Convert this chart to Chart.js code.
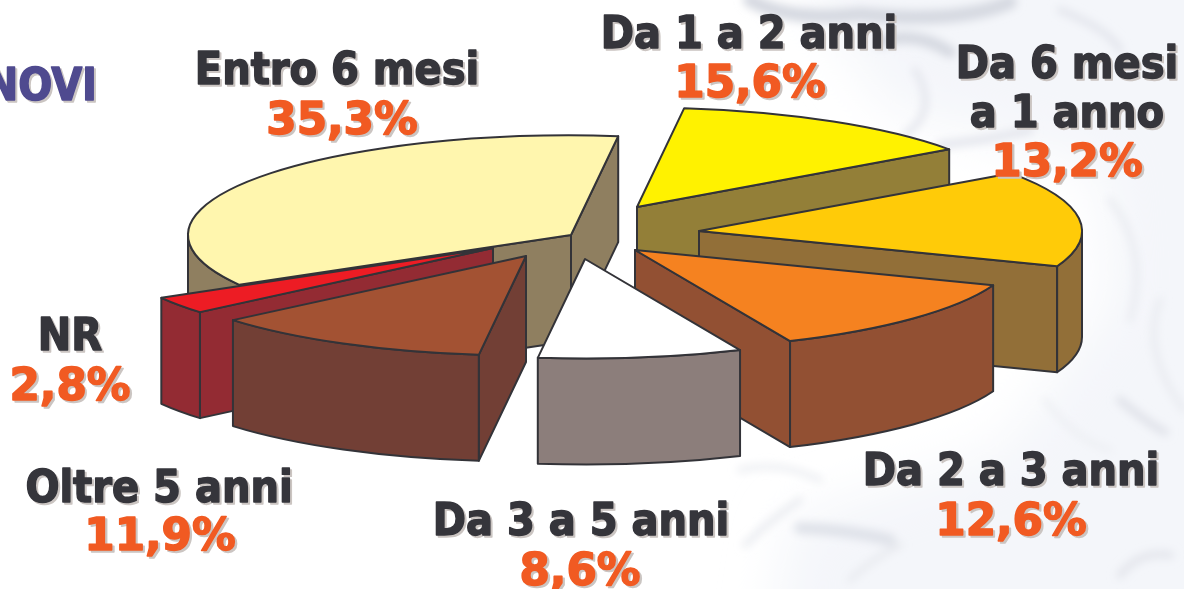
<!DOCTYPE html>
<html><head><meta charset="utf-8">
<script src="https://cdn.jsdelivr.net/npm/chart.js@4"></script>
<style>
html,body{margin:0;padding:0;background:#fff;width:1184px;height:589px;overflow:hidden}
#bg{position:absolute;left:0;top:0}
#wrap{position:absolute;left:0;top:0;width:1184px;height:589px}
</style></head><body>
<svg id="bg" width="1184" height="589" viewBox="0 0 1184 589">
<defs>
<filter id="b1" x="-30%" y="-30%" width="160%" height="160%"><feGaussianBlur stdDeviation="26"/></filter>
<filter id="b2" x="-30%" y="-30%" width="160%" height="160%"><feGaussianBlur stdDeviation="4"/></filter>
</defs>
<g filter="url(#b1)" fill="#f4f6fa">
<path d="M770 -60 L1250 -60 L1250 650 L770 650 L790 520 L1000 450 L1110 300 L1100 170 L890 110 Z"/>
</g>
<g filter="url(#b2)" fill="none" stroke="#d6d9e1" stroke-linecap="round">
<path d="M750 0 Q790 22 860 14 Q960 24 1010 2" stroke-width="14"/>
<path d="M880 42 Q915 30 950 52" stroke-width="12"/>
<path d="M915 70 Q940 110 905 135" stroke-width="6" stroke="#e3e5ec"/>
<path d="M1060 10 Q1110 30 1120 50" stroke-width="7" stroke="#e3e5ec"/>
<path d="M940 145 Q990 140 1030 130" stroke-width="8" stroke="#e3e5ec"/>
<path d="M1110 200 Q1150 250 1130 320" stroke-width="6" stroke="#e9ebf0"/>
<path d="M1160 300 Q1140 350 1184 410" stroke-width="6" stroke="#e9ebf0"/>
<path d="M1120 400 Q1150 425 1165 432" stroke-width="8" stroke="#e0e2e9"/>
<path d="M740 470 Q780 460 820 480" stroke-width="6" stroke="#eceef2"/>
<path d="M800 528 Q850 530 890 540" stroke-width="12" stroke="#dfe2e9"/>
<path d="M745 545 Q770 520 800 500" stroke-width="6" stroke="#e8eaef"/>
<path d="M850 580 Q870 560 900 545" stroke-width="6" stroke="#e8eaef"/>
<path d="M1120 575 Q1140 550 1170 555" stroke-width="8" stroke="#e4e6ec"/>
<path d="M1045 400 Q1075 440 1110 450" stroke-width="5" stroke="#eceef2"/>
</g>
</svg>
<div id="wrap"><canvas id="c" width="1184" height="589"></canvas></div>
<script>
const categories = ["Entro 6 mesi","Da 6 mesi a 1 anno","Da 1 a 2 anni","Da 2 a 3 anni","Da 3 a 5 anni","Oltre 5 anni","NR"];
const values = [35.3,13.2,15.6,12.6,8.6,11.9,2.8];
const topColors = ["#FFF6AE","#FFF200","#FFCB08","#F58220","#FFFFFF","#A35233","#ED1C24"];
const wallColors = ["#8F7F60","#937F38","#926F38","#925033","#8C7E7B","#723F35","#932B33"];

// layout: 3D projection of the library's arcs
const RX = 383, TILT = 0.26, DEPTH = 106, STROKE = "#333338";
const apexes = [[571,235],[637,207],[699,231],[635,250],[585,259],[526,256],[493,248]];
const paintOrder = [1,2,3,0,6,5,4];
// layout: text blocks, lines split per category, each line [centerX, baseline]
const labelLines = [
 [["Entro 6 mesi",337,84]],
 [["Da 6 mesi",1067,78],["a 1 anno",1067,127]],
 [["Da 1 a 2 anni",749,48]],
 [["Da 2 a 3 anni",1011,485]],
 [["Da 3 a 5 anni",581,535]],
 [["Oltre 5 anni",159,502]],
 [["NR",70,350]]
];
const valuePos = [[342,134],[1067,176],[750,97],[1011,535],[580,585],[160,550],[70,400]];
const FONT = 'bold 44.5px "DejaVu Sans Condensed","DejaVu Sans"';

function drawSlice(ctx, arc, i){
  const [ax,ay] = apexes[i];
  const a = arc.startAngle, b = arc.endAngle, ry = RX*TILT;
  const pt = t => [ax+RX*Math.cos(t), ay+ry*Math.sin(t)];
  ctx.lineWidth = 2; ctx.lineJoin = "round"; ctx.strokeStyle = STROKE; ctx.fillStyle = wallColors[i];
  const face = t => {
    const p = pt(t);
    ctx.beginPath(); ctx.moveTo(ax,ay); ctx.lineTo(p[0],p[1]);
    ctx.lineTo(p[0],p[1]+DEPTH); ctx.lineTo(ax,ay+DEPTH); ctx.closePath();
    ctx.fill(); ctx.stroke();
  };
  if (Math.sin(a-Math.PI/2)>0) face(a);
  if (Math.sin(b+Math.PI/2)>0) face(b);
  // outer wall: front facing part of the rim
  [[0,Math.PI],[2*Math.PI,3*Math.PI]].forEach(([lo,hi])=>{
    const s = Math.max(a,lo), e = Math.min(b,hi);
    if (e<=s) return;
    ctx.beginPath();
    ctx.ellipse(ax,ay,RX,ry,0,s,e);
    ctx.ellipse(ax,ay+DEPTH,RX,ry,0,e,s,true);
    ctx.closePath(); ctx.fill(); ctx.stroke();
  });
  // top face: the library's own arc under the projection
  const k = RX/arc.outerRadius;
  ctx.save();
  ctx.translate(ax,ay); ctx.scale(k,k*TILT); ctx.translate(-arc.x,-arc.y);
  arc.draw(ctx);
  ctx.restore();
  ctx.beginPath(); ctx.moveTo(ax,ay); ctx.ellipse(ax,ay,RX,ry,0,a,b); ctx.closePath();
  ctx.stroke();
}
function shadowText(ctx, txt, x, y, color, align, sx){
  ctx.save();
  ctx.translate(x,y); ctx.scale(sx||1,1);
  ctx.textAlign = align||"center"; ctx.textBaseline = "alphabetic";
  ctx.lineJoin = "round"; ctx.lineWidth = 1.4;
  ctx.fillStyle = ctx.strokeStyle = "#cbc5c2";
  ctx.strokeText(txt,2,2); ctx.fillText(txt,2,2);
  ctx.fillStyle = ctx.strokeStyle = color;
  ctx.strokeText(txt,0,0); ctx.fillText(txt,0,0);
  ctx.restore();
}
const pie3d = {
  id:"pie3d",
  beforeDatasetDraw(chart, args){
    const ctx = chart.ctx, arcs = args.meta.data;
    paintOrder.forEach(i=>drawSlice(ctx, arcs[i], i));
    return false;
  },
  afterDraw(chart){
    const ctx = chart.ctx;
    ctx.save();
    ctx.font = FONT;
    shadowText(ctx,"NOVI",97,100,"#4F4A8F","right");
    categories.forEach((c,i)=>{
      labelLines[i].forEach(l=>shadowText(ctx,l[0],l[1],l[2],"#35353B"));
      const v = values[i].toFixed(1).replace(".",",")+"%";
      shadowText(ctx,v,valuePos[i][0],valuePos[i][1],"#F15A22","center",1.09);
    });
    ctx.restore();
  }
};
new Chart(document.getElementById("c"),{
  type:"pie",
  data:{labels:categories,datasets:[{data:values,backgroundColor:topColors,borderWidth:0}]},
  options:{responsive:false,animation:false,rotation:240,
    layout:{padding:0},
    plugins:{legend:{display:false},tooltip:{enabled:false},title:{display:false}}},
  plugins:[pie3d]
});
</script>
</body></html>
